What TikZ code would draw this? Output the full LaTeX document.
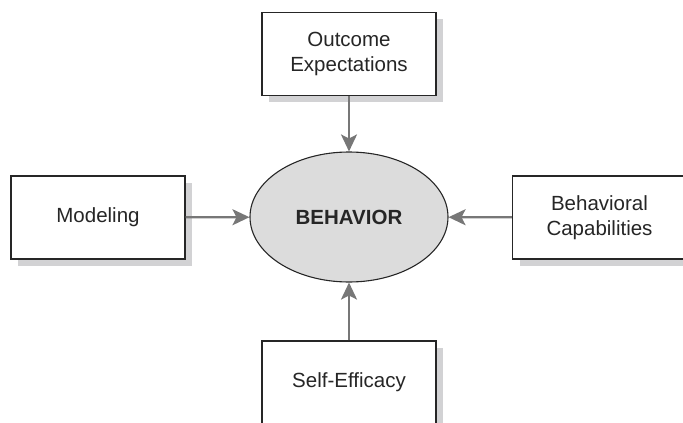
\documentclass[tikz,border=0pt]{standalone}
\usepackage{fontspec}
\setmainfont{Liberation Sans}
\usetikzlibrary{shapes.geometric,shadows,arrows.meta}
\definecolor{shadowgray}{HTML}{D2D2D4}
\definecolor{arrowgray}{HTML}{777777}
\definecolor{ellgray}{HTML}{DCDCDC}
\definecolor{ink}{HTML}{262626}
\tikzset{
  conceptbox/.style={draw=ink, line width=1.2pt, fill=white, rectangle,
    minimum width=174pt, minimum height=83pt, inner sep=0pt, align=center,
    font=\fontsize{20.5}{25}\selectfont, text=ink,
    drop shadow={shadow xshift=7pt, shadow yshift=-7pt, fill=shadowgray, opacity=1}},
  behaviornode/.style={draw=ink, line width=1.1pt, fill=ellgray, ellipse,
    minimum width=198pt, minimum height=130pt, inner sep=0pt,
    font=\fontsize{20.5}{25}\selectfont\bfseries, text=ink},
  influence/.style={draw=arrowgray, line width=2.2pt,
    -{Stealth[length=17pt, width=16pt, inset=4pt]}}
}
\begin{document}
\begin{tikzpicture}[x=1pt,y=-1pt]
\useasboundingbox (0,0) rectangle (683,423);
\clip (0,0) rectangle (683,423);
\node[behaviornode] (beh) at (349,217) {BEHAVIOR};
\node[conceptbox] (out) at (349,53.75) {Outcome\\Expectations};
\node[conceptbox] (mod) at (98,217.5) {Modeling};
\node[conceptbox] (cap) at (599.5,217.5) {Behavioral\\Capabilities};
\node[conceptbox] (eff) at (349,382.5) {Self-Efficacy};
\draw[influence] (out) -- (beh);
\draw[influence] (mod) -- (beh);
\draw[influence] (cap) -- (beh);
\draw[influence] (eff) -- (beh);
\end{tikzpicture}
\end{document}
